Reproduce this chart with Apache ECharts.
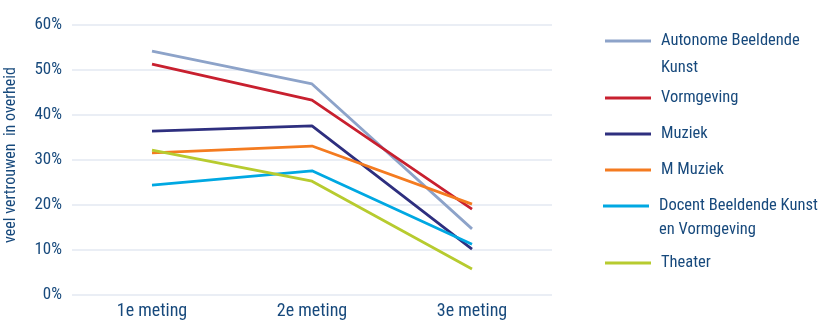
<!DOCTYPE html>
<html>
<head>
<meta charset="utf-8">
<script src="https://cdn.jsdelivr.net/npm/echarts@6/dist/echarts.min.js"></script>
<style>
  html, body { margin: 0; padding: 0; background: #fff; }
  #chart { width: 819px; height: 321px; }
</style>
</head>
<body>
<div id="chart"></div>
<script>
// metingen
const categories = ['1e meting', '2e meting', '3e meting'];
const seriesNames = ['Autonome Beeldende Kunst', 'Vormgeving', 'Muziek', 'M Muziek', 'Docent Beeldende Kunst en Vormgeving', 'Theater'];
const autonome = [54.2, 46.9, 14.7];
const vormgeving = [51.3, 43.3, 19.1];
const muziek = [36.4, 37.6, 10.2];
const mMuziek = [31.6, 33.1, 20.2];
const docent = [24.4, 27.6, 11.3];
const theater = [32.2, 25.3, 5.8];
const colors = ['#8DA3C9', '#C8202F', '#2E2F7F', '#F47B20', '#00A8E2', '#B7CB2F'];

const textColor = '#17497c';
const fontFam = '"Roboto Condensed", "Open Sans Condensed", sans-serif';
const allData = [autonome, vormgeving, muziek, mMuziek, docent, theater];

// legenda: eerste regel in de legend, tweede regel als losse tekst
const legendY = [41, 98, 134, 170, 206, 263];
const legendX = [605, 605, 605, 605, 603, 605];
const legendFirst = ['Autonome Beeldende', 'Vormgeving', 'Muziek', 'M Muziek', 'Docent Beeldende Kunst', 'Theater'];
const legendSecond = ['Kunst', '', '', '', 'en Vormgeving', ''];
const secondOffset = [25, 0, 0, 0, 22, 0];

let chart = echarts.init(document.getElementById('chart'));

let legends = seriesNames.map((name, i) => ({
    data: [name],
    left: legendX[i],
    top: legendY[i] - 11,
    padding: 0,
    itemWidth: 51,
    itemHeight: 14,
    // lijn van 46px, onzichtbaar punt verderop zodat de tekst iets naar rechts schuift
    icon: 'path://M0,5.5 H46 V8.5 H0 Z M51,7 L51,7.01 L50.99,7.01 Z',
    formatter: () => legendFirst[i],
    textStyle: {
        color: textColor,
        fontFamily: fontFam,
        fontSize: 16.5,
        lineHeight: 22
    },
    selectedMode: false
}));

let secondLines = [];
legendSecond.forEach((txt, i) => {
    if (!txt) return;
    secondLines.push({
        type: 'text',
        left: legendX[i] + 56,
        top: legendY[i] + secondOffset[i] - 7,
        style: { text: txt, fill: textColor, font: '16.5px ' + fontFam }
    });
});

chart.setOption({
    animation: false,
    color: colors,
    legend: legends,
    graphic: secondLines,
    grid: {
        left: 72,
        right: 267,
        top: 25,
        bottom: 26,
        outerBoundsMode: 'none'
    },
    xAxis: {
        type: 'category',
        data: categories,
        boundaryGap: true,
        axisLine: { show: false },
        axisTick: { show: false },
        axisLabel: {
            color: textColor,
            fontFamily: fontFam,
            fontSize: 18,
            margin: 7
        }
    },
    yAxis: {
        type: 'value',
        min: 0,
        max: 60,
        interval: 10,
        name: 'veel vertrouwen  in overheid',
        nameLocation: 'middle',
        nameGap: 53,
        nameTextStyle: {
            color: textColor,
            fontFamily: fontFam,
            fontSize: 16,
            padding: [0, 0, 0, 10]
        },
        axisLabel: {
            color: textColor,
            fontFamily: fontFam,
            fontSize: 17,
            margin: 10,
            formatter: '{value}%'
        },
        splitLine: { lineStyle: { color: '#e3e9f2', width: 1.5 } }
    },
    series: seriesNames.map((name, i) => ({
        name: name,
        type: 'line',
        data: allData[i],
        symbol: 'none',
        lineStyle: { width: 2.8, color: colors[i] },
        itemStyle: { color: colors[i] }
    }))
});
</script>
</body>
</html>
